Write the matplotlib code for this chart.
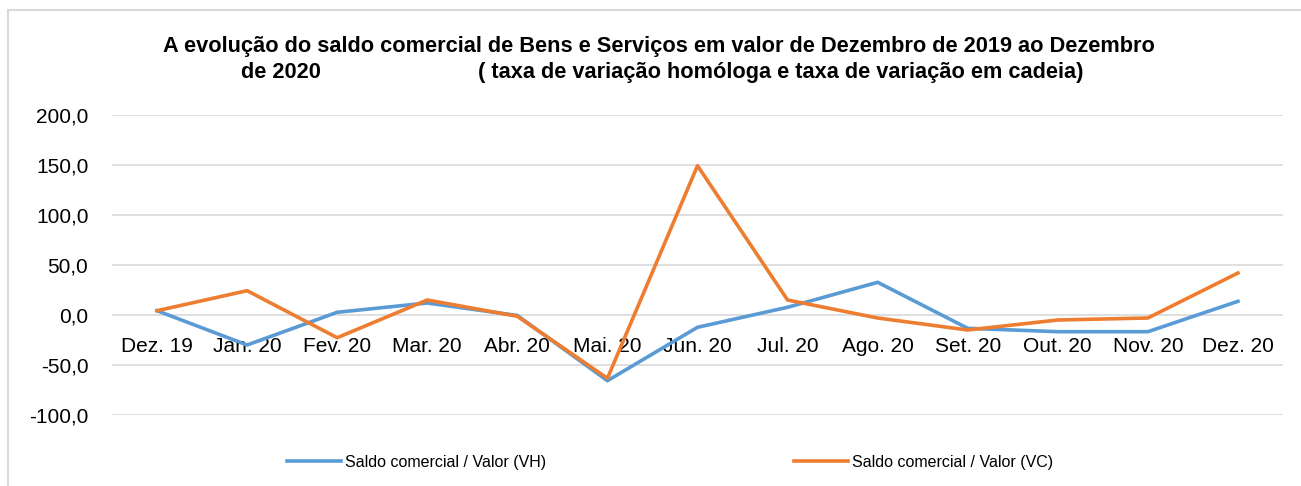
import matplotlib
matplotlib.use("Agg")
import matplotlib.pyplot as plt
from matplotlib.lines import Line2D
from matplotlib.patches import Rectangle

categories = ["Dez. 19", "Jan. 20", "Fev. 20", "Mar. 20", "Abr. 20", "Mai. 20",
              "Jun. 20", "Jul. 20", "Ago. 20", "Set. 20", "Out. 20", "Nov. 20", "Dez. 20"]
vh = [4.3, -30.0, 2.7, 12.0, -0.5, -65.7, -12.3, 7.7, 32.7, -13.3, -16.7, -16.7, 13.7]
vc = [4.3, 24.3, -22.7, 15.0, -1.3, -63.3, 149.3, 15.0, -3.0, -15.0, -5.0, -3.0, 42.0]
yticks = [-100, -50, 0, 50, 100, 150, 200]
ytick_labels = ["-100,0", "-50,0", "0,0", "50,0", "100,0", "150,0", "200,0"]
series_names = ["Saldo comercial / Valor (VH)", "Saldo comercial / Valor (VC)"]
title_line1 = "A evolução do saldo comercial de Bens e Serviços em valor de Dezembro de 2019 ao Dezembro"
title_line2a = "de 2020"
title_line2b = "( taxa de variação homóloga e taxa de variação em cadeia)"

plt.rcParams['font.family'] = ['Liberation Sans', 'DejaVu Sans']

W, H = 1301, 486
fig = plt.figure(figsize=(W / 100, H / 100), dpi=100)

# chart border (light grey, left and top visible)
fig.add_artist(Rectangle((8 / W, -0.1), 1.2, (H - 10) / H + 0.1, transform=fig.transFigure,
                         fill=False, edgecolor="#D9D9D9", linewidth=1.5))

left, right = 112 / W, 1283 / W
bottom, top = (H - 415) / H, (H - 115) / H
ax = fig.add_axes([left, bottom, right - left, top - bottom])

x = list(range(len(categories)))
blue = "#5B9BD5"
orange = "#ED7D31"
ax.plot(x, vh, color=blue, linewidth=2.6, solid_joinstyle="round", zorder=3)
ax.plot(x, vc, color=orange, linewidth=2.6, solid_joinstyle="round", zorder=4)

ax.set_xlim(-0.5, len(categories) - 0.5)
ax.set_ylim(-100, 200)
ax.set_yticks(yticks)
ax.set_yticklabels(ytick_labels, fontsize=15)
ax.yaxis.grid(True, color="#D9D9D9", linewidth=1.2)
ax.set_axisbelow(True)

for s in ["top", "right", "left"]:
    ax.spines[s].set_visible(False)
ax.spines["bottom"].set_position(("data", 0))
ax.spines["bottom"].set_visible(False)
ax.set_xticks(x)
ax.set_xticklabels(categories, fontsize=15)
ax.tick_params(axis="x", length=0, pad=16)
ax.tick_params(axis="y", length=0, pad=17)

# title
fig.text(659 / W, 1 - 52 / H, title_line1, ha="center", va="baseline",
         fontsize=15.7, fontweight="bold")
fig.text(241 / W, 1 - 78 / H, title_line2a, ha="left", va="baseline",
         fontsize=15.7, fontweight="bold")
fig.text(478 / W, 1 - 78 / H, title_line2b, ha="left", va="baseline",
         fontsize=15.7, fontweight="bold")

handles = [Line2D([], [], color=blue, linewidth=2.6),
           Line2D([], [], color=orange, linewidth=2.6)]
fig.legend(handles, series_names, loc="center left", bbox_to_anchor=(287 / W, 1 - 462 / H),
           ncol=2, frameon=False, fontsize=11.5, handlelength=3.4, handletextpad=0.25,
           columnspacing=15.5, borderpad=0, borderaxespad=0)

fig.savefig("out.png", dpi=100)
